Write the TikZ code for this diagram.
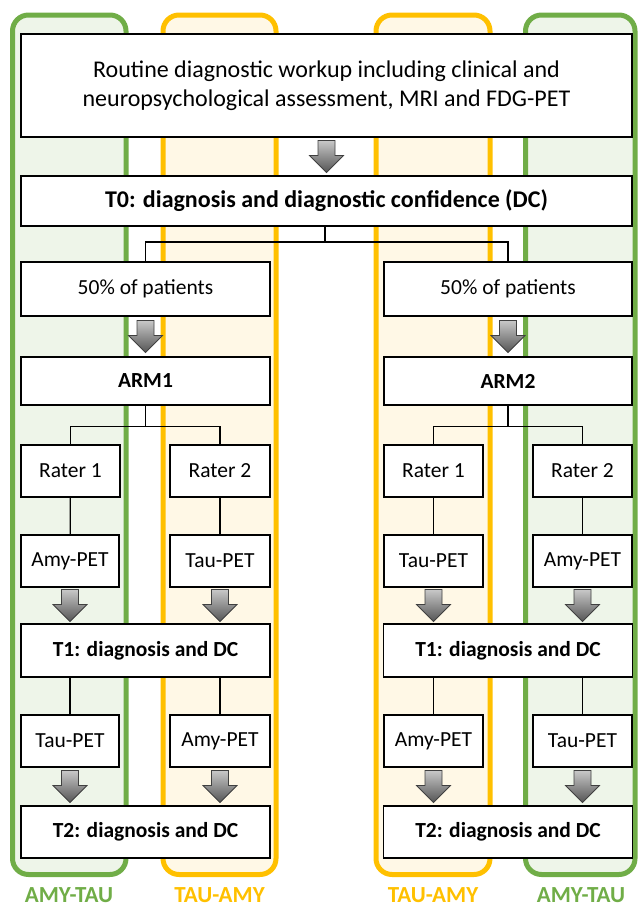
\documentclass[tikz,border=0pt]{standalone}
\usepackage{fontspec}
\setmainfont{Carlito}
\usetikzlibrary{calc}
\definecolor{lgreen}{HTML}{70AD47}
\definecolor{lgold}{HTML}{FFC000}
\definecolor{fgreen}{HTML}{EEF5E9}
\definecolor{fgold}{HTML}{FFF8E6}
\definecolor{agtop}{HTML}{C8C8C8}
\definecolor{agbot}{HTML}{555555}
\begin{document}
\begin{tikzpicture}[x=1pt,y=-1pt,
  lanegreen/.style={draw=lgreen,fill=fgreen,line width=5pt,rounded corners=16pt},
  lanegold/.style={draw=lgold,fill=fgold,line width=5pt,rounded corners=16pt},
  lanelabel/.style={inner sep=0pt,font=\bfseries\fontsize{23}{26}\selectfont},
  box/.style={draw,line width=1.4pt,fill=white,inner sep=0pt,align=center,font=\fontsize{21.5}{25}\selectfont},
  bbox/.style={box,font=\bfseries\fontsize{21.5}{25}\selectfont},
  conn/.style={line width=1.2pt},
  barrow/.pic={\shade[top color=agtop,bottom color=agbot,draw=black!75,line width=0.8pt]
     (-8.5,-16) -- (8.5,-16) -- (8.5,-1) -- (17,-1) -- (0,16) -- (-17,-1) -- (-8.5,-1) -- cycle;}
]
\useasboundingbox (0,0) rectangle (638,908);
% lanes
\draw[lanegreen] (12.5,15) rectangle (126,874.5);
\draw[lanegold] (163,15) rectangle (276,874.5);
\draw[lanegold] (376,15) rectangle (490,874.5);
\draw[lanegreen] (525.5,15) rectangle (635,874.5);
\node[lanelabel,text=lgreen] (lab1) at (69,895.5) {AMY-TAU};
\node[lanelabel,text=lgold] (lab2) at (219.5,895.5) {TAU-AMY};
\node[lanelabel,text=lgold] (lab3) at (433,895.5) {TAU-AMY};
\node[lanelabel,text=lgreen] (lab4) at (581,895.5) {AMY-TAU};
% top
\node[box,minimum width=611,minimum height=103,font=\fontsize{24}{29}\selectfont] (top) at (326.5,85.5)
  {Routine diagnostic workup including clinical and\\neuropsychological assessment, MRI and FDG-PET};
\node[bbox,minimum width=611,minimum height=50,font=\bfseries\fontsize{24}{28}\selectfont] (t0) at (326.5,201)
  {T0: diagnosis and diagnostic confidence (DC)};
\pic at ($(top.south)!0.5!(t0.north)$) {barrow};
% 50%
\node[box,minimum width=249,minimum height=54] (pl) at (145.5,289) {50\% of patients};
\node[box,minimum width=248,minimum height=54] (pr) at (508,289) {50\% of patients};
\coordinate (s0) at (325,242);
\draw[conn] (s0 |- t0.south) -- (s0);
\draw[conn] (s0) -| (pl.north);
\draw[conn] (s0) -| (pr.north);
% ARM
\node[bbox,minimum width=249,minimum height=48] (arm1) at (145.5,381) {ARM1};
\node[bbox,minimum width=248,minimum height=48] (arm2) at (508,381) {ARM2};
\pic at ($(pl.south)!0.5!(arm1.north)$) {barrow};
\pic at ($(pr.south)!0.5!(arm2.north)$) {barrow};
% raters
\node[box,minimum width=99,minimum height=52] (ra1) at (70.5,471) {Rater 1};
\node[box,minimum width=100,minimum height=52] (ra2) at (220,471) {Rater 2};
\node[box,minimum width=99,minimum height=52] (rb1) at (433.5,471) {Rater 1};
\node[box,minimum width=99,minimum height=52] (rb2) at (582.5,471) {Rater 2};
\coordinate (s1) at ($(arm1.south)+(0,21)$);
\coordinate (s2) at ($(arm2.south)+(0,21)$);
\draw[conn] (arm1.south) -- (s1);
\draw[conn] (s1) -| (ra1.north);
\draw[conn] (s1) -| (ra2.north);
\draw[conn] (arm2.south) -- (s2);
\draw[conn] (s2) -| (rb1.north);
\draw[conn] (s2) -| (rb2.north);
% PET row 1
\node[box,minimum width=98,minimum height=52] (pa1) at (70,561) {Amy-PET};
\node[box,minimum width=100,minimum height=52] (pa2) at (220,561) {Tau-PET};
\node[box,minimum width=99,minimum height=52] (pb1) at (433.5,561) {Tau-PET};
\node[box,minimum width=99,minimum height=52] (pb2) at (582.5,561) {Amy-PET};
\draw[conn] (ra1) -- (pa1);
\draw[conn] (ra2) -- (pa2);
\draw[conn] (rb1) -- (pb1);
\draw[conn] (rb2) -- (pb2);
% T1
\node[bbox,minimum width=249,minimum height=53] (t1a) at (145.5,650.5) {T1: diagnosis and DC};
\node[bbox,minimum width=249,minimum height=53] (t1b) at (508,650.5) {T1: diagnosis and DC};
\pic at ($(pa1.south)!0.5!(pa1.south |- t1a.north)$) {barrow};
\pic at ($(pa2.south)!0.5!(pa2.south |- t1a.north)$) {barrow};
\pic at ($(pb1.south)!0.5!(pb1.south |- t1b.north)$) {barrow};
\pic at ($(pb2.south)!0.5!(pb2.south |- t1b.north)$) {barrow};
% PET row 2
\node[box,minimum width=98,minimum height=52] (qa1) at (70,741) {Tau-PET};
\node[box,minimum width=100,minimum height=52] (qa2) at (220,741) {Amy-PET};
\node[box,minimum width=99,minimum height=52] (qb1) at (433.5,741) {Amy-PET};
\node[box,minimum width=99,minimum height=52] (qb2) at (582.5,741) {Tau-PET};
\draw[conn] (qa1.north |- t1a.south) -- (qa1.north);
\draw[conn] (qa2.north |- t1a.south) -- (qa2.north);
\draw[conn] (qb1.north |- t1b.south) -- (qb1.north);
\draw[conn] (qb2.north |- t1b.south) -- (qb2.north);
% T2
\node[bbox,minimum width=249,minimum height=52] (t2a) at (145.5,832) {T2: diagnosis and DC};
\node[bbox,minimum width=249,minimum height=52] (t2b) at (508,832) {T2: diagnosis and DC};
\pic at ($(qa1.south)!0.5!(qa1.south |- t2a.north)$) {barrow};
\pic at ($(qa2.south)!0.5!(qa2.south |- t2a.north)$) {barrow};
\pic at ($(qb1.south)!0.5!(qb1.south |- t2b.north)$) {barrow};
\pic at ($(qb2.south)!0.5!(qb2.south |- t2b.north)$) {barrow};
\end{tikzpicture}
\end{document}
